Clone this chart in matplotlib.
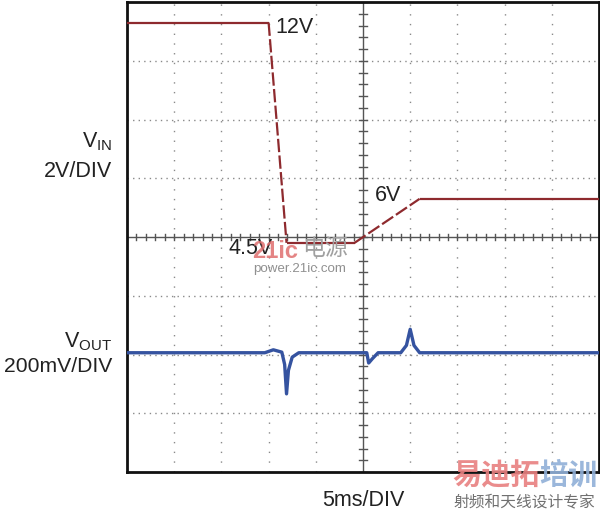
import matplotlib
matplotlib.use("Agg")
import matplotlib.pyplot as plt

plt.rcParams['font.family'] = ['Liberation Sans', 'DejaVu Sans']
plt.rcParams['mathtext.fontset'] = 'custom'
plt.rcParams['mathtext.rm'] = 'Liberation Sans'

# ---- data ----
# V_IN trace (time in ms, volts), 2 V/div
t_in = [0, 15.0, 16.9, 24.1, 31.0, 50]
v_in = [12, 12, 4.5, 4.5, 6, 6]
# V_OUT deviation trace (time in ms, mV), 200 mV/div
t_out = [0, 14.6, 15.5, 16.4, 16.7, 16.9, 17.1, 17.5, 18.2, 25.4, 25.6, 26.0, 26.6,
         29.0, 29.6, 30.0, 30.4, 31.0, 50]
v_out = [0, 0, 10, 2, -40, -140, -60, -15, 0, 0, -35, -20, 0,
         0, 25, 80, 25, 0, 0]
vin_label = ["12V", "4.5V", "6V"]
ms_per_div = 5
vin_per_div = 2.0
vout_per_div = 200.0
vin_zero_div = 1.65
vout_zero_div = 2.03

CJK = ['Noto Sans CJK SC', 'DejaVu Sans']

fig = plt.figure(figsize=(6.0, 5.14), dpi=100)
ax = fig.add_axes([127/600, 42/514, 472/600, 470/514])
ax.set_xlim(0, 10 * ms_per_div)
ax.set_ylim(0, 8)

# grid
for i in range(1, 10):
    if i == 5:
        continue
    ax.axvline(i * ms_per_div, color='#8a8a8a', lw=1.0, ls=(0, (1, 6)), zorder=1)
for j in range(1, 8):
    if j == 4:
        continue
    ax.axhline(j, color='#8a8a8a', lw=1.0, ls=(0, (1, 3)), zorder=1)

# center axes with minor ticks
ax.axhline(4, color='#555555', lw=1.0, zorder=2)
ax.axvline(5 * ms_per_div, color='#555555', lw=1.0, zorder=2)
for k in range(0, 51):
    x = k * ms_per_div / 5
    ax.plot([x, x], [4 - 0.05, 4 + 0.05], color='#555555', lw=1.0, zorder=2)
for k in range(0, 41):
    y = k / 5
    ax.plot([25 - 0.4, 25 + 0.4], [y, y], color='#555555', lw=1.0, zorder=2)

ax.set_xticks([])
ax.set_yticks([])
for s in ax.spines.values():
    s.set_linewidth(2.0)
    s.set_color('#111111')

# traces
vin_div = [vin_zero_div + v / vin_per_div for v in v_in]
for i in range(len(t_in) - 1):
    ramp = v_in[i] != v_in[i + 1]
    ax.plot(t_in[i:i + 2], vin_div[i:i + 2], color='#8e2a2e', lw=1.6, zorder=4,
            ls=(0, (6, 1.5)) if ramp else '-', solid_capstyle='butt')
ax.plot(t_out, [vout_zero_div + v / vout_per_div for v in v_out], color='#3553a0', lw=2.4, zorder=4)

# trace labels
ax.text(15.7, 7.57, vin_label[0], fontsize=15.5, va='center', ha='left', color='#222222', zorder=5)
ax.text(15.4, 3.81, vin_label[1], fontsize=15.5, va='center', ha='right', color='#222222', zorder=5)
ax.text(26.3, 4.70, vin_label[2], fontsize=15.5, va='center', ha='left', color='#222222', zorder=5)

# left labels
fig.text(112/600, 1 - 147/514, r'$\mathregular{V_{IN}}$', fontsize=15.5, ha='right', va='baseline', color='#222222')
fig.text(112/600, 1 - 177/514, '2V/DIV', fontsize=15.5, ha='right', va='baseline', color='#222222')
fig.text(112/600, 1 - 347/514, r'$\mathregular{V_{OUT}}$', fontsize=15.5, ha='right', va='baseline', color='#222222')
fig.text(112/600, 1 - 372/514, '200mV/DIV', fontsize=15.2, ha='right', va='baseline', color='#222222')
fig.text(363/600, 1 - 506/514, '5ms/DIV', fontsize=15.5, ha='center', va='baseline', color='#222222')

# watermarks
fig.text(252/600, 1 - 258/514, '21ic', fontsize=17, fontweight='bold', ha='left', va='baseline',
         color='#e07070', alpha=0.85)
fig.text(302/600, 1 - 248/514, '电源', fontsize=16.5, ha='left', va='center', color='#a0a0a0', family=CJK)
fig.text(300/600, 1 - 269/514, 'power.21ic.com', fontsize=9.6, ha='center', va='center', color='#909090')
fig.text(452/600, 1 - 475/514, '易迪拓', fontsize=21, fontweight='bold', ha='left', va='center', color='#e88080',
         family=CJK, alpha=0.9)
fig.text(597/600, 1 - 475/514, '培训', fontsize=21, fontweight='bold', ha='right', va='center', color='#90b0d8',
         family=CJK, alpha=0.9)
fig.text(524/600, 1 - 503/514, '射频和天线设计专家', fontsize=11.3, ha='center', va='center', color='#707070',
         family=CJK)

fig.savefig('out.png', dpi=100)
